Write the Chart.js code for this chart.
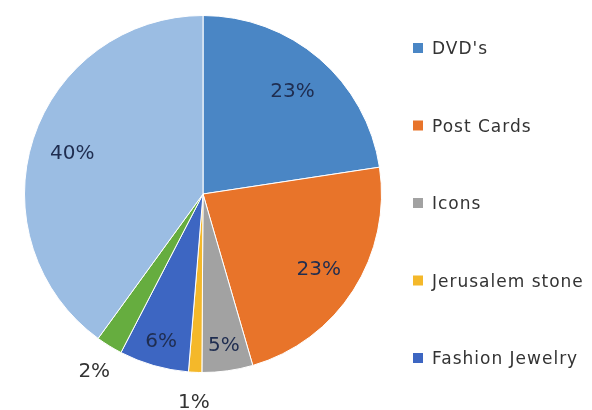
<!DOCTYPE html>
<html>
<head>
<meta charset="utf-8">
<script src="https://cdn.jsdelivr.net/npm/chart.js@4"></script>
<style>
  html, body { margin: 0; padding: 0; background: #ffffff; }
  #wrap { width: 592px; height: 410px; position: relative; }
</style>
</head>
<body>
<div id="wrap"><canvas id="salesPie"></canvas></div>
<script>
const categories = ['DVD\'s', 'Post Cards', 'Icons', 'Jerusalem stone', 'Fashion Jewelry', 'Other', 'Books'];
const shares = [22.6, 22.9, 4.6, 1.2, 6.3, 2.4, 40.0];
const sliceColors = ['#4a86c5', '#e8742a', '#a2a2a2', '#f4b82a', '#3d66c2', '#66ad3f', '#9bbde3'];
const legendCount = 5;

// percentage labels, small slices pushed outside the pie
const pctLabels = {
  id: 'pctLabels',
  afterDatasetsDraw(chart) {
    const { ctx } = chart;
    const meta = chart.getDatasetMeta(0);
    ctx.save();
    ctx.font = '20px "DejaVu Sans", sans-serif';
    ctx.textAlign = 'center';
    ctx.textBaseline = 'middle';
    meta.data.forEach((arc, i) => {
      const { x, y, startAngle, endAngle, outerRadius } = arc.getProps(['x', 'y', 'startAngle', 'endAngle', 'outerRadius'], true);
      const mid = (startAngle + endAngle) / 2;
      const v = shares[i];
      let f = 0.77;
      ctx.fillStyle = '#1f2d50';
      if (v < 3) {
        f = 1.16;
        ctx.fillStyle = '#333333';
      } else if (v < 10) {
        f = 0.85;
      }
      ctx.fillText(`${Math.round(v)}%`, x + Math.cos(mid) * outerRadius * f, y + 2 + Math.sin(mid) * outerRadius * f);
    });
    ctx.restore();
  },
};

// legend drawn by hand: only the first entries fit, one per row
const sideLegend = {
  id: 'sideLegend',
  afterDraw(chart) {
    const { ctx, chartArea } = chart;
    const colors = chart.data.datasets[0].backgroundColor;
    const left = chartArea.right + 31;
    const rowGap = 77.5;
    const top = 205 - rowGap * (legendCount - 1) / 2;
    ctx.save();
    ctx.font = '17px "DejaVu Sans", sans-serif';
    ctx.letterSpacing = '1px';
    ctx.textBaseline = 'middle';
    ctx.textAlign = 'left';
    for (let i = 0; i < legendCount; i += 1) {
      const y = top + i * rowGap;
      ctx.fillStyle = colors[i];
      ctx.fillRect(left, y - 7, 10, 10);
      ctx.fillStyle = '#333333';
      ctx.fillText(chart.data.labels[i], left + 19, y);
    }
    ctx.restore();
  },
};

const ctx = document.getElementById('salesPie');
new Chart(ctx, {
  type: 'pie',
  data: {
    labels: categories,
    datasets: [{
      data: shares,
      backgroundColor: sliceColors,
      borderColor: '#ffffff',
      borderWidth: 1,
    }],
  },
  options: {
    responsive: true,
    maintainAspectRatio: false,
    animation: false,
    layout: {
      padding: { left: 24, top: 15, bottom: 37, right: 210 },
    },
    plugins: {
      tooltip: { enabled: false },
      legend: { display: false },
    },
  },
  plugins: [pctLabels, sideLegend],
});
</script>
</body>
</html>
